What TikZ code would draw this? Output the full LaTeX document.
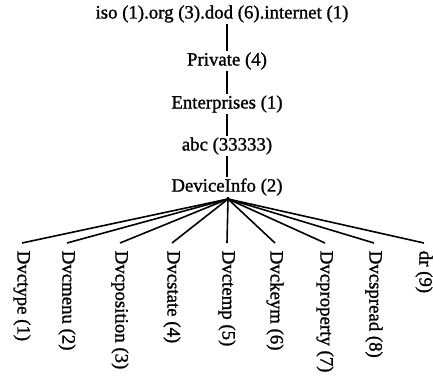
\documentclass[tikz,border=0pt]{standalone}
\usepackage{fontspec}
\setmainfont{Liberation Serif}[BoldFont={Liberation Serif}, BoldFeatures={FakeBold=1.2}]

\begin{document}
\begin{tikzpicture}[x=1pt, y=-1pt, line width=1.6pt]

        \def\xs{227}            % x of the stem
        \def\ytop{243}          % upper end of the leaf nodes
        \def\fsiz{18.8}         % font size
        \tikzstyle{level}=[inner sep=1pt]
        \tikzstyle{leaf}=[rotate=-90, anchor=west, inner xsep=7pt, inner ysep=1pt]
        \tikzset{fontscale/.style = {font={\fontsize{#1pt}{#1pt}\selectfont\bfseries}}}

        \useasboundingbox (0,0) rectangle (433,375);

        % Draw the stem nodes
        \node[level,fontscale=\fsiz] (Lv-1) at (222,14) {iso (1).org (3).dod (6).internet (1)};
        \node[level,fontscale=\fsiz] (Lv-2) at (\xs,61) {Private (4)};
        \node[level,fontscale=\fsiz] (Lv-3) at (\xs,104) {Enterprises (1)};
        \node[level,fontscale=\fsiz] (Lv-4) at (\xs,146) {abc (33333)};
        \node[level,fontscale=\fsiz] (Lv-5) at (\xs,187) {DeviceInfo (2)};
        \coordinate (fan) at (228,199);

        % Connect the stem
        \draw (Lv-1.south -| Lv-2.north) -- (Lv-2.north);
        \foreach \source/\dest in {2/3,3/4,4/5}
                \draw (Lv-\source.south) -- (Lv-\dest.north);
        \draw (Lv-5.south -| fan) -- (fan);

        % Draw the leaf nodes
        \foreach \xn/\name [count=\i] in {22/Dvctype (1), 67/Dvcmenu (2), 120/Dvcposition (3),
                172/Dvcstate (4), 227/Dvctemp (5), 275/Dvckeym (6), 325/Dvcproperty (7),
                374/Dvcspread (8), 424/dr (9)}{
                \node[leaf,fontscale=\fsiz] (Lf-\i) at (\xn,\ytop) {\name};
                \draw (fan) -- (Lf-\i.west);
        }

\end{tikzpicture}
\end{document}
